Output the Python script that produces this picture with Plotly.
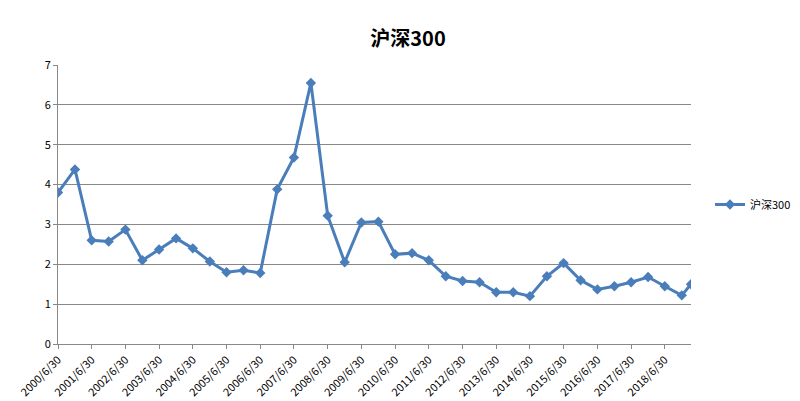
import plotly.graph_objects as go

dates = ["2000-06-30", "2000-12-31", "2001-06-30", "2001-12-31", "2002-06-30", "2002-12-31",
         "2003-06-30", "2003-12-31", "2004-06-30", "2004-12-31", "2005-06-30", "2005-12-31",
         "2006-06-30", "2006-12-31", "2007-06-30", "2007-12-31", "2008-06-30", "2008-12-31",
         "2009-06-30", "2009-12-31", "2010-06-30", "2010-12-31", "2011-06-30", "2011-12-31",
         "2012-06-30", "2012-12-31", "2013-06-30", "2013-12-31", "2014-06-30", "2014-12-31",
         "2015-06-30", "2015-12-31", "2016-06-30", "2016-12-31", "2017-06-30", "2017-12-31",
         "2018-06-30", "2018-12-31", "2019-04-10"]
values = [3.8, 4.38, 2.6, 2.57, 2.87, 2.1, 2.37, 2.65, 2.4, 2.07, 1.8, 1.85,
          1.78, 3.88, 4.68, 6.55, 3.22, 2.05, 3.05, 3.07, 2.25, 2.28, 2.1, 1.7,
          1.58, 1.55, 1.3, 1.3, 1.2, 1.7, 2.03, 1.6, 1.37, 1.45, 1.55, 1.68,
          1.45, 1.22, 1.5]
tick_vals = [f"{y}-06-30" for y in range(2000, 2019)]
tick_text = [f"{y}/6/30" for y in range(2000, 2019)]

fig = go.Figure()
fig.add_trace(go.Scatter(x=dates, y=values, name="沪深300", mode="lines+markers",
                         line=dict(color="#4a7ebb", width=3),
                         marker=dict(symbol="diamond", size=8, color="#4a7ebb")))

fig.update_layout(
    width=800, height=401,
    title=dict(text="<b>沪深300</b>", x=0.5, y=0.94, xanchor="center",
               font=dict(size=20, color="black")),
    font=dict(family="Noto Sans CJK SC", size=11, color="black"),
    plot_bgcolor="white", paper_bgcolor="white",
    margin=dict(l=50, r=115, t=57, b=65),
    showlegend=True,
    legend=dict(x=1.03, y=0.5, yanchor="middle", font=dict(size=11)),
    xaxis=dict(type="date", range=["2000-06-30", "2019-04-10"], tickvals=tick_vals,
               ticktext=tick_text, tickangle=-45, showgrid=False, automargin=False,
               showline=True, linecolor="#888", ticks="outside", ticklen=4, tickcolor="#888"),
    yaxis=dict(range=[0, 7], dtick=1, showgrid=True, gridcolor="#888", gridwidth=1,
               showline=True, linecolor="#888", zeroline=False, automargin=False,
               ticks="outside", ticklen=4, tickcolor="#888"),
)
fig.write_html("out.html")
